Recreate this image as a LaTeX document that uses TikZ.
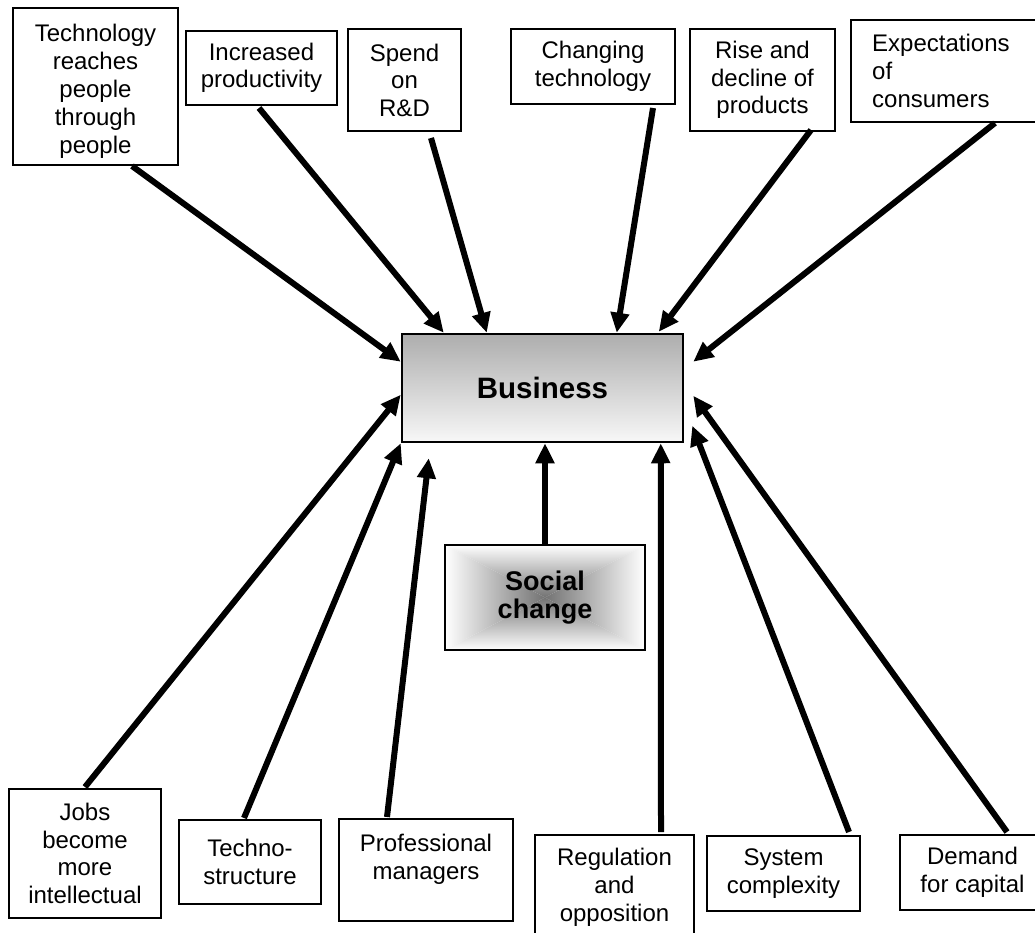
\documentclass[tikz,border=0pt]{standalone}
\usepackage{fontspec}
\setmainfont{Liberation Sans}
\usetikzlibrary{calc,arrows.meta}

\tikzset{
  box/.style={draw=black, line width=2pt, fill=white, inner sep=0pt,
    align=center, font=\fontsize{24}{27.5}\selectfont},
  txt/.style={inner sep=0pt, font=\fontsize{24}{28}\selectfont},
  flow/.style={line width=6pt, -{Triangle[length=20pt,width=18pt]}},
  bizbox/.style={draw=black, line width=2.5pt, inner sep=0pt,
    shading angle=45, top color=black!32, bottom color=black!3,
    font=\fontsize{29.5}{32}\selectfont\bfseries},
  socbox/.style={draw=black, line width=2pt, inner sep=0pt, align=center,
    font=\fontsize{27}{28.5}\selectfont\bfseries,
    path picture={
      \coordinate (m) at (path picture bounding box.center);
      \shade[top color=white, bottom color=black!55]
        (path picture bounding box.north west) -- (path picture bounding box.north east) -- (m) -- cycle;
      \shade[bottom color=white, top color=black!55]
        (path picture bounding box.south west) -- (path picture bounding box.south east) -- (m) -- cycle;
      \shade[left color=white, right color=black!55]
        (path picture bounding box.north west) -- (path picture bounding box.south west) -- (m) -- cycle;
      \shade[right color=white, left color=black!55]
        (path picture bounding box.north east) -- (path picture bounding box.south east) -- (m) -- cycle;
    }},
}

\begin{document}
\begin{tikzpicture}[x=1pt, y=-1pt]
  \path[use as bounding box] (0,0) rectangle (1035,933);
  \fill[white] (0,0) rectangle (1035,933);
  \clip (0,0) rectangle (1035,933);

  % forces above the business
  \node[box, minimum width=165pt, minimum height=157pt] (t1) at (95.5,86.5) {};
  \node[txt, align=center] (t1text) at (95.5,91)
    {Technology\\reaches\\people\\through\\people};
  \node[box, minimum width=151pt, minimum height=74pt] (t2) at (261.5,68)
    {Increased\\productivity};
  \node[box, minimum width=113pt, minimum height=102pt] (t3) at (404.5,80)
    {Spend\\on\\R\&D};
  \node[box, minimum width=164pt, minimum height=75pt] (t4) at (593,66.5)
    {Changing\\technology};
  \node[box, minimum width=145pt, minimum height=102pt] (t5) at (762.5,80)
    {Rise and\\decline of\\products};
  \node[box, minimum width=194pt, minimum height=102pt] (t6) at (948,71) {};
  \node[txt, anchor=west, align=left] (t6text) at (872,71)
    {Expectations\\of\\consumers};

  % the business and social change
  \node[bizbox, minimum width=281pt, minimum height=108pt] (biz) at (542.5,388) {Business};
  \node[socbox, minimum width=200pt, minimum height=105pt] (soc) at (545,597.5)
    {Social\\change};

  % forces below the business
  \node[box, minimum width=152pt, minimum height=129pt] (b1) at (85,853.5)
    {Jobs\\become\\more\\intellectual};
  \node[box, minimum width=142pt, minimum height=84pt] (b2) at (250,862)
    {Techno-\\structure};
  \node[box, minimum width=174pt, minimum height=102pt] (b3) at (426,870) {};
  \node[txt, align=center] (b3text) at (426,859) {Professional\\managers};
  \node[box, minimum width=159pt, minimum height=115pt] (b4) at (614.5,892.5) {};
  \node[txt, align=center, anchor=north] (b4text) at (614.5,848)
    {Regulation\\and\\opposition};
  \node[box, minimum width=153pt, minimum height=75pt] (b5) at (783.5,873.5)
    {System\\complexity};
  \node[box, minimum width=145pt, minimum height=75pt] (b6) at (972.5,872.5)
    {Demand\\for capital};

  % arrows into the business
  \draw[flow] ($(t1.south west)+(120,0)$) -- ($(biz.north west)+(0,29)$);
  \draw[flow] ($(t2.south west)+(74,2)$) -- ($(biz.north west)+(43,0)$);
  \draw[flow] ($(t3.south west)+(84,6)$) -- ($(biz.north west)+(86,0)$);
  \draw[flow] ($(t4.south west)+(143,3)$) -- ($(biz.north west)+(216,0)$);
  \draw[flow] ($(t5.south west)+(122,-2)$) -- ($(biz.north west)+(258,-1)$);
  \draw[flow] ($(t6.south west)+(145,0)$) -- ($(biz.north east)+(9,29)$);

  \draw[flow] ($(b1.north west)+(77,-1)$) -- ($(biz.north west)+(0,62)$);
  \draw[flow] ($(b2.north west)+(66,-1)$) -- (biz.south west);
  \draw[flow] ($(b3.north west)+(49,-1)$) -- ($(biz.south west)+(28,15)$);
  \draw[flow] (soc.north) -- (soc.north |- biz.south);
  \draw[flow] ($(b4.north west)+(127,-2)$) -- ($(biz.south west)+(260,0)$);
  \draw[flow] ($(b5.north west)+(143,-3)$) -- ($(biz.north east)+(8,93)$);
  \draw[flow] ($(b6.north west)+(108,-2)$) -- ($(biz.north east)+(9,63)$);
\end{tikzpicture}
\end{document}
